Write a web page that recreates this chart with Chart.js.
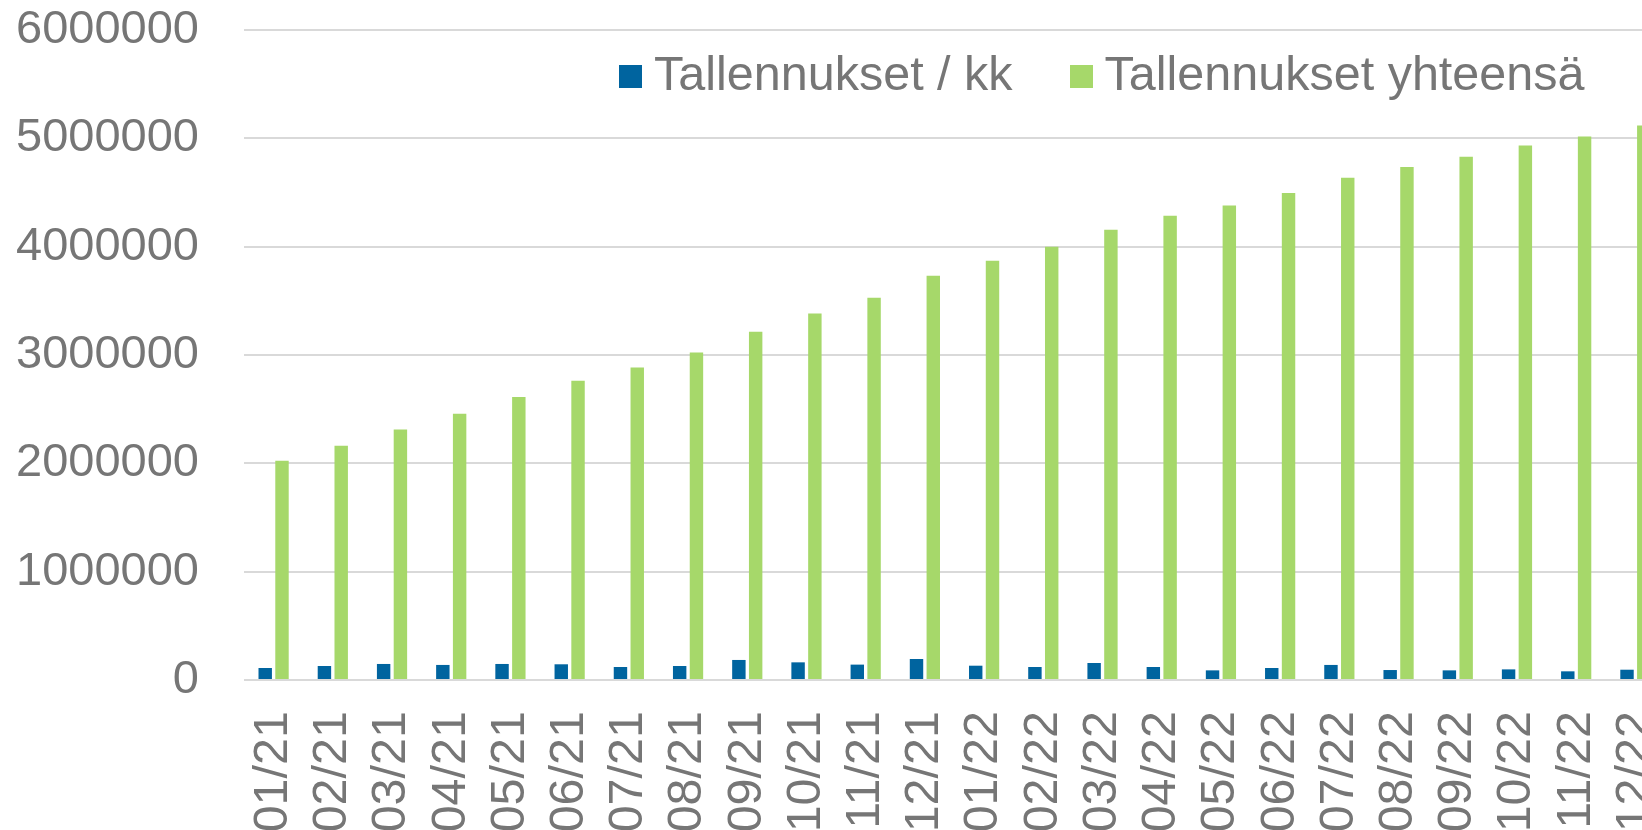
<!DOCTYPE html>
<html>
<head>
<meta charset="utf-8">
<script src="https://cdn.jsdelivr.net/npm/chart.js@4/dist/chart.umd.min.js"></script>
<style>
  html, body { margin: 0; padding: 0; background: #fff; }
  #wrap { position: relative; width: 1642px; height: 830px; overflow: hidden; }
  #chart { position: absolute; left: 0; top: 0; }
  #legend {
    position: absolute; left: 619px; top: 45px;
    display: flex; white-space: nowrap;
    font: 48.5px "Liberation Sans", Arial, sans-serif;
    line-height: 56px; color: #767676;
  }
  #legend .item { display: flex; }
  #legend .item + .item { margin-left: 57px; }
  #legend .box { width: 23px; height: 23px; margin: 20px 12px 0 0; }
</style>
</head>
<body>
<div id="wrap">
  <canvas id="chart" width="1680" height="840"></canvas>
  <div id="legend"></div>
</div>
<script>
// Kuukaudet
const months = ['01/21', '02/21', '03/21', '04/21', '05/21', '06/21', '07/21', '08/21', '09/21', '10/21', '11/21', '12/21',
                '01/22', '02/22', '03/22', '04/22', '05/22', '06/22', '07/22', '08/22', '09/22', '10/22', '11/22', '12/22'];

// Tallennukset / kk
const monthly = [111000, 129000, 148000, 139000, 148000, 145000, 120000, 129000, 185000, 163000, 142000, 194000,
                 132000, 120000, 157000, 120000, 89000, 111000, 139000, 92000, 89000, 98000, 80000, 95000];

// Tallennukset yhteensä
const total = [2023000, 2162000, 2312000, 2457000, 2612000, 2762000, 2885000, 3024000, 3215000, 3384000, 3529000, 3732000,
               3871000, 4000000, 4157000, 4286000, 4379000, 4496000, 4637000, 4736000, 4831000, 4933000, 5016000, 5118000];

const yTicks = [0, 1000000, 2000000, 3000000, 4000000, 5000000, 6000000];

const textColor = '#767676';
const font = { family: '"Liberation Sans", Arial, sans-serif', size: 47 };

const ctx = document.getElementById('chart').getContext('2d');
const chart = new Chart(ctx, {
    type: 'bar',
    data: {
        labels: months,
        datasets: [
            { label: 'Tallennukset / kk', data: monthly, backgroundColor: '#00649F' },
            { label: 'Tallennukset yhteensä', data: total, backgroundColor: '#A6D86A' }
        ]
    },
    options: {
        responsive: false,
        animation: false,
        categoryPercentage: 0.567,
        barPercentage: 0.8,
        layout: { padding: { left: 16, top: 0, right: 15, bottom: 0 } },
        plugins: {
            legend: { display: false },
            tooltip: { enabled: false }
        },
        scales: {
            x: {
                grid: { display: false },
                border: { display: false },
                ticks: {
                    autoSkip: false,
                    minRotation: 90,
                    maxRotation: 90,
                    padding: 23,
                    color: textColor,
                    font: { family: font.family, size: 48.5 }
                },
                // fixed axis height so the plot bottom sits where the original has it
                afterFit: axis => {
                    axis.height = 160;
                    axis.paddingLeft = 0;
                    axis.paddingRight = 0;
                }
            },
            y: {
                min: yTicks[0],
                max: yTicks[yTicks.length - 1],
                afterBuildTicks: axis => { axis.ticks = yTicks.map(v => ({ value: v })); },
                grid: { color: '#D9D9D9', lineWidth: 2, drawTicks: false },
                border: { display: false },
                ticks: {
                    padding: 45,
                    color: textColor,
                    font: font,
                    callback: v => String(v)
                },
                afterFit: axis => {
                    axis.width = 228;
                    axis.paddingTop = 30;
                    axis.paddingBottom = 0;
                }
            }
        }
    }
});

// Legend as html text
const legend = document.getElementById('legend');
chart.data.datasets.forEach(ds => {
    const item = document.createElement('div');
    item.className = 'item';
    const box = document.createElement('div');
    box.className = 'box';
    box.style.background = ds.backgroundColor;
    item.appendChild(box);
    item.appendChild(document.createTextNode(ds.label));
    legend.appendChild(item);
});
</script>
</body>
</html>
